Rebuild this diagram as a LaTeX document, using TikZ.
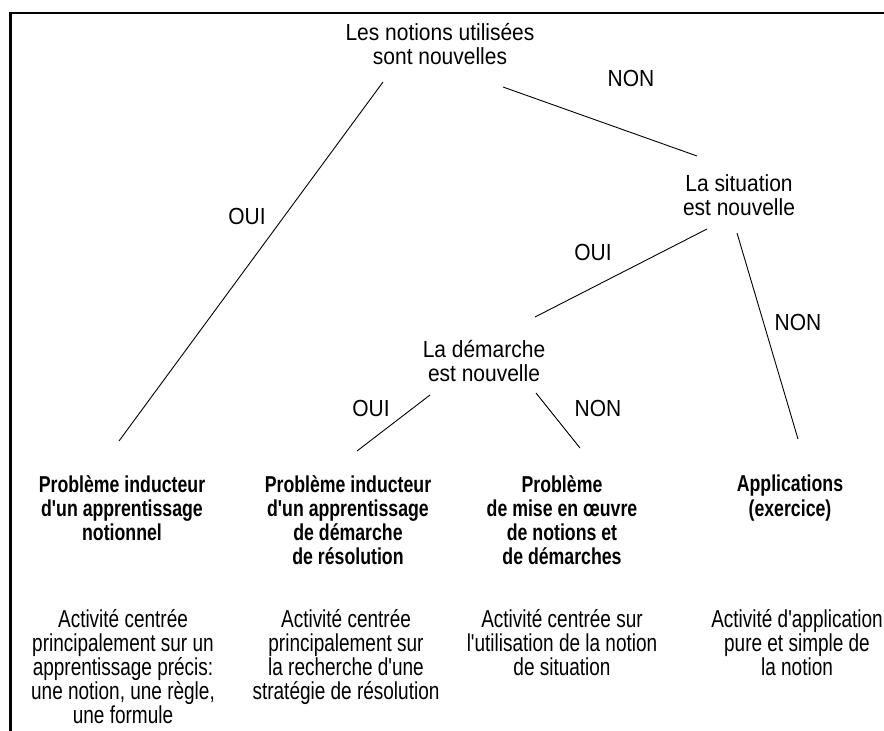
\documentclass[tikz,border=0pt]{standalone}
\usepackage{fontspec}
\setmainfont{Liberation Sans}[FakeStretch=0.9]
\newfontfamily\titlefont{Liberation Sans Bold}[FakeStretch=0.77]
\newfontfamily\activityfont{Liberation Sans}[FakeStretch=0.775]

\tikzset{
  question/.style={align=center, inner sep=0pt, font=\fontsize{23.3}{24}\selectfont},
  answer/.style={inner sep=0pt, font=\fontsize{23.3}{24}\selectfont},
  problem/.style={align=center, anchor=north, inner sep=0pt, font=\titlefont\fontsize{23}{24.3}\selectfont},
  activity/.style={align=center, anchor=north, inner sep=0pt, font=\activityfont\fontsize{24.5}{24}\selectfont},
  branch/.style={line width=0.9pt}
}

\begin{document}
\begin{tikzpicture}[x=1pt, y=-1pt]
  \useasboundingbox (0,0) rectangle (884,731);
  % frame
  \draw[line width=2.5pt] (10.5,731) -- (10.5,13) -- (884,13);

  % questions
  \node[question] (notions) at (440,44) {Les notions utilisées\\sont nouvelles};
  \node[question] (situation) at (739,195) {La situation\\est nouvelle};
  \node[question] (demarche) at (484,361) {La démarche\\est nouvelle};

  % problems
  \node[problem] (notionnel) at (122,475) {Problème inducteur\\d'un apprentissage\\notionnel};
  \node[problem] (resolution) at (348,475) {Problème inducteur\\d'un apprentissage\\de démarche\\de résolution};
  \node[problem] (oeuvre) at (562,475) {Problème\\de mise en œuvre\\de notions et\\de démarches};
  \node[problem] (exercice) at (790,475) {Applications\\(exercice)};

  % activities
  \node[activity] (act1) at (123,609) {Activité centrée\\principalement sur un\\apprentissage précis:\\une notion, une règle,\\une formule};
  \node[activity] (act2) at (346,609) {Activité centrée\\principalement sur\\la recherche d'une\\stratégie de résolution};
  \node[activity] (act3) at (562,609) {Activité centrée sur\\l'utilisation de la notion\\de situation};
  \node[activity] (act4) at (797,609) {Activité d'application\\pure et simple de\\la notion};

  % line ends
  \coordinate (notions-oui) at (383,82);
  \coordinate (notions-non) at (503,87);
  \coordinate (notionnel-top) at (119,441);
  \coordinate (situation-in) at (697,156);
  \coordinate (situation-oui) at (707,229);
  \coordinate (situation-non) at (737,233);
  \coordinate (demarche-in) at (535,317);
  \coordinate (exercice-top) at (798,439);
  \coordinate (demarche-oui) at (430,395);
  \coordinate (demarche-non) at (536,393);
  \coordinate (resolution-top) at (357,451);
  \coordinate (oeuvre-top) at (580,448);

  % branches
  \draw[branch] (notions-oui) -- (notionnel-top);
  \draw[branch] (notions-non) -- (situation-in);
  \draw[branch] (situation-oui) -- (demarche-in);
  \draw[branch] (situation-non) -- (exercice-top);
  \draw[branch] (demarche-oui) -- (resolution-top);
  \draw[branch] (demarche-non) -- (oeuvre-top);

  % answers
  \node[answer] (non1) at (631,78) {NON};
  \node[answer] (oui1) at (247,216) {OUI};
  \node[answer] (oui2) at (593,252) {OUI};
  \node[answer] (non2) at (798,322) {NON};
  \node[answer] (oui3) at (371,408) {OUI};
  \node[answer] (non3) at (598,408) {NON};
\end{tikzpicture}
\end{document}
